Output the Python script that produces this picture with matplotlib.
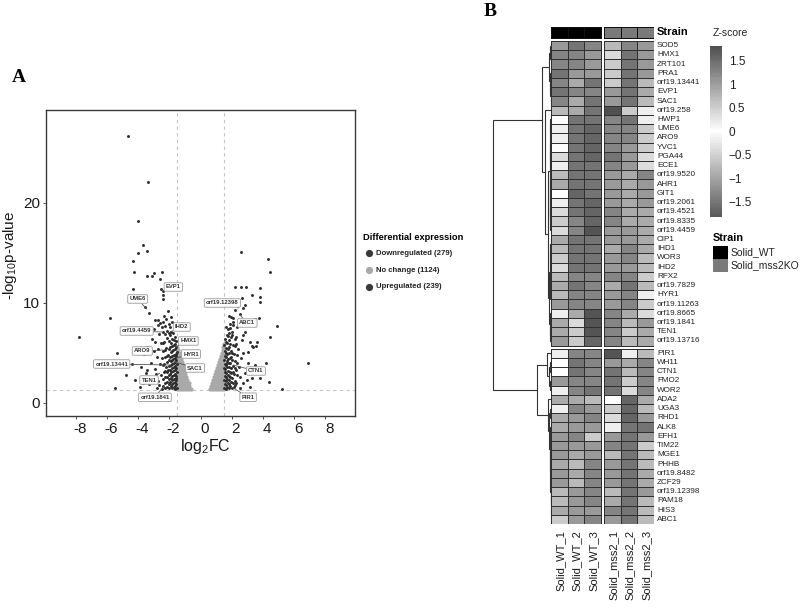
import numpy as np
import matplotlib
matplotlib.use('Agg')
import matplotlib.pyplot as plt
from matplotlib.colors import LinearSegmentedColormap, ListedColormap, Normalize
from matplotlib.lines import Line2D
from matplotlib.patches import Rectangle
import matplotlib.transforms as mtransforms
import matplotlib.colorbar as mcolorbar

plt.rcParams['font.family'] = ['Liberation Sans', 'DejaVu Sans']
plt.rcParams['mathtext.fontset'] = 'custom'
plt.rcParams['mathtext.rm'] = 'Liberation Sans'
plt.rcParams['mathtext.default'] = 'regular'

# ---------------- Panel A data (volcano) ----------------
down_fc = [-4.67,-3.35,-3.99,-3.67,-3.41,-3.99,-4.35,-4.28,-3.45,-3.13,-2.98,-2.47,-2.6,-4.35,-2.53,-2.42,-2.42,-2.40,-3.58,-3.3,-5.8,-7.77,-5.37,-4.8,-5.5,-4.95,
           -3.1,-3.4,-3.0,-3.6,-2.8,-3.2,-3.8,-2.9,-3.5,-3.1,-4.2,-2.7,-3.3,-3.9,-2.8,-4.4,-3.7,-3.0,-2.92,-2.7,-2.6,-2.49,-3.5,-2.75,-2.65,-2.55,-2.7,-2.6,-2.5,-2.65,-2.45,-2.85,-3.4,-2.9,
           -1.53,-1.57,-1.54,-1.58,-1.52,-1.56,-1.53,-1.59,-1.55,-1.52,-1.57,-1.54,
           -1.63,-1.61,-1.65,-1.6,-1.64,-1.62,-1.66,-1.61,-1.64,-1.6,-1.65,-1.62,-1.66,-1.63,
           -1.71,-1.74,-1.7,-1.73,-1.75,-1.7,-1.72,-1.76,-1.71,-1.74,-1.7,-1.73,-1.77,
           -1.81,-1.84,-1.8,-1.83,-1.86,-1.8,-1.82,-1.85,-1.81,-1.84,-1.8,-1.83,-1.86,-1.82,
           -1.91,-1.94,-1.9,-1.93,-1.96,-1.9,-1.92,-1.95,-1.91,-1.94,-1.9,-1.93,-1.96,-1.92,
           -2.02,-2.05,-2.0,-2.04,-2.07,-2.01,-2.03,-2.06,-2.02,-2.05,-2.01,-2.04,-2.07,
           -2.14,-2.17,-2.12,-2.16,-2.19,-2.13,-2.15,-2.18,-2.12,-2.16,-2.2,
           -2.27,-2.3,-2.25,-2.29,-2.32,-2.26,-2.28,-2.31,-2.25,-2.3,-2.33,
           -2.39,-2.42,-2.37,-2.41,-2.44,-2.38,-2.4,-2.43,-2.38]
down_p = [26.7,22.1,18.2,15.8,15.2,15.0,14.2,13.1,12.7,12.7,13.0,13.1,12.4,11.4,11.4,11.2,10.8,10.4,9.6,9.0,8.5,6.6,5.0,2.8,1.5,4.2,
          6.4,5.6,5.2,4.9,4.6,4.0,3.6,3.4,3.0,2.6,2.3,2.2,1.9,1.6,1.5,3.9,2.0,7.4,8.3,8.3,8.0,7.6,7.0,7.8,6.9,6.0,5.4,3.9,2.8,1.8,1.4,2.9,3.3,6.1,
          1.5,1.9,2.3,2.7,3.1,3.5,3.9,4.3,4.7,5.1,5.6,6.2,
          1.4,1.7,2.1,2.5,2.9,3.3,3.7,4.1,4.5,4.9,5.4,5.9,6.6,7.4,
          1.6,2.0,2.4,2.8,3.2,3.6,4.0,4.4,4.8,5.3,5.8,6.3,7.0,
          1.5,1.9,2.3,2.7,3.1,3.5,3.9,4.3,4.7,5.2,5.7,6.4,7.1,8.1,
          1.7,2.1,2.5,2.9,3.3,3.8,4.2,4.6,5.1,5.6,6.0,6.8,7.6,8.6,
          1.5,1.9,2.4,2.8,3.3,3.7,4.3,4.8,5.4,6.2,7.0,7.9,9.2,
          1.6,2.1,2.6,3.1,3.6,4.1,4.7,5.5,6.5,7.2,8.4,
          1.5,2.0,2.6,3.2,3.9,4.6,5.3,6.1,6.9,7.7,8.7,
          1.7,2.4,3.1,3.8,4.5,5.2,6.0,7.1,8.1]

up_fc = [2.6,4.31,4.45,2.21,2.58,2.9,3.81,3.3,3.81,3.81,2.66,2.85,2.74,1.81,1.95,2.1,3.77,4.92,4.45,3.32,3.56,6.87,5.2,4.18,4.39,3.54,
         2.1,1.99,2.85,2.3,2.64,3.17,3.39,3.06,2.75,3.06,3.49,2.85,2.53,3.28,3.81,2.75,2.21,2.45,2.6,2.4,2.95,3.2,2.55,2.35,2.5,2.2,2.7,3.6,3.0,3.5,
         1.53,1.56,1.52,1.57,1.54,1.51,1.56,1.53,1.58,1.54,1.52,1.56,
         1.62,1.65,1.61,1.64,1.66,1.6,1.63,1.67,1.62,1.65,1.61,1.64,1.68,1.62,
         1.72,1.75,1.71,1.74,1.77,1.7,1.73,1.76,1.72,1.74,1.71,1.75,1.78,
         1.82,1.85,1.81,1.84,1.87,1.8,1.83,1.86,1.82,1.85,1.81,1.84,1.87,
         1.92,1.95,1.9,1.94,1.97,1.91,1.93,1.96,1.92,1.95,1.9,
         2.04,2.07,2.02,2.06,2.09,2.03,2.05,2.08,2.04,2.06,
         2.17,2.2,2.15,2.19,2.22,2.16,2.18,2.21,
         2.29,2.32,2.27,2.31,2.34,2.28]
up_p = [15.1,14.4,13.1,11.6,11.6,11.6,11.5,10.8,10.6,10.1,10.5,9.8,9.5,8.7,8.6,8.5,8.5,7.7,6.6,5.7,5.7,4.0,1.4,4.0,2.1,3.4,
        8.1,7.1,7.1,6.6,6.3,6.1,5.6,5.1,5.0,4.0,3.8,3.0,2.6,2.5,2.5,2.0,1.8,3.6,4.5,5.4,2.3,1.6,1.5,7.6,8.9,9.3,6.8,6.1,8.3,8.4,
        1.5,1.9,2.3,2.7,3.1,3.5,3.9,4.3,4.7,5.2,5.8,6.4,
        1.4,1.8,2.2,2.6,3.0,3.4,3.8,4.2,4.6,5.0,5.5,6.1,6.8,7.6,
        1.6,2.0,2.4,2.8,3.2,3.6,4.0,4.4,4.9,5.4,6.0,6.7,7.4,
        1.5,1.9,2.3,2.7,3.1,3.6,4.0,4.5,5.0,5.6,6.3,7.0,7.9,
        1.7,2.1,2.6,3.0,3.5,4.0,4.6,5.2,5.9,6.6,7.5,
        1.5,2.0,2.5,3.1,3.7,4.3,5.0,5.8,6.8,7.8,
        1.6,2.2,2.9,3.5,4.2,4.9,5.7,6.4,
        2.0,2.8,3.3,4.0,4.8,5.9]

nc_fc = [-1.48,-1.36,-1.24,-1.12,-1.0,-0.88,-0.76,-0.64,
         -1.45,-1.33,-1.21,-1.09,-0.97,-0.85,-0.73,
         -1.48,-1.36,-1.24,-1.12,-1.0,-0.88,-0.76,
         -1.45,-1.33,-1.21,-1.09,-0.97,-0.85,
         -1.48,-1.36,-1.24,-1.12,-1.0,-0.9,
         -1.45,-1.33,-1.21,-1.09,-0.97,
         -1.48,-1.36,-1.24,-1.12,-1.0,
         -1.45,-1.33,-1.21,-1.09,
         -1.48,-1.36,-1.24,-1.12,
         -1.45,-1.33,-1.21,
         -1.48,-1.36,-1.25,
         -1.45,-1.33,
         -1.48,-1.37,
         -1.46,-1.49,
         0.64,0.76,0.88,1.0,1.12,1.24,1.36,1.48,
         0.7,0.82,0.94,1.06,1.18,1.3,1.42,
         0.76,0.88,1.0,1.12,1.24,1.36,1.48,
         0.82,0.94,1.06,1.18,1.3,1.42,
         0.88,1.0,1.12,1.24,1.36,1.48,
         0.94,1.06,1.18,1.3,1.42,
         1.0,1.12,1.24,1.36,1.48,
         1.06,1.18,1.3,1.42,
         1.12,1.24,1.36,1.48,
         1.18,1.3,1.42,
         1.24,1.36,1.48,
         1.3,1.42,
         1.36,1.48,
         1.42,1.47,1.49]
nc_p = [1.4,1.4,1.4,1.4,1.4,1.4,1.4,1.4,
        1.7,1.7,1.7,1.7,1.7,1.7,1.7,
        2.0,2.0,2.0,2.0,2.0,2.0,2.0,
        2.3,2.3,2.3,2.3,2.3,2.3,
        2.6,2.6,2.6,2.6,2.6,2.6,
        2.9,2.9,2.9,2.9,2.9,
        3.2,3.2,3.2,3.2,3.2,
        3.5,3.5,3.5,3.5,
        3.8,3.8,3.8,3.8,
        4.1,4.1,4.1,
        4.4,4.4,4.4,
        4.7,4.7,
        5.0,5.0,
        5.3,5.6,
        1.4,1.4,1.4,1.4,1.4,1.4,1.4,1.4,
        1.7,1.7,1.7,1.7,1.7,1.7,1.7,
        2.0,2.0,2.0,2.0,2.0,2.0,2.0,
        2.3,2.3,2.3,2.3,2.3,2.3,
        2.6,2.6,2.6,2.6,2.6,2.6,
        2.9,2.9,2.9,2.9,2.9,
        3.2,3.2,3.2,3.2,3.2,
        3.5,3.5,3.5,3.5,
        3.8,3.8,3.8,3.8,
        4.1,4.1,4.1,
        4.4,4.4,4.4,
        4.7,4.7,
        5.0,5.0,
        5.3,5.6,5.9]

lab_genes = ['EVP1','UME6','orf19.4459','IHD2','HMX1','HYR1','SAC1','ARO9','orf19.13441','TEN1','orf19.1841',
             'orf19.12398','ABC1','CTN1','PIR1']
lab_fc = [-2.42,-3.45,-2.49,-1.96,-1.63,-1.53,-1.64,-2.39,-1.96,-2.6,-2.38, 2.43,2.53,2.1,2.0]
lab_p = [11.2,9.4,7.1,7.1,5.6,4.5,4.1,5.3,3.8,3.0,1.63, 9.5,8.8,3.8,1.6]
lab_tx = [-1.74,-4.03,-4.09,-1.2,-0.78,-0.61,-0.35,-3.73,-5.69,-3.3,-2.92, 1.4,3.0,3.55,3.05]
lab_ty = [11.6,10.4,7.2,7.6,6.2,4.9,3.5,5.2,3.9,2.3,0.57, 10.0,8.0,3.2,0.58]

legend_labels = ['Downregulated (279)', 'No change (1124)', 'Upregulated (239)']

# ---------------- Panel B data (heatmap) ----------------
genes = ['SOD5','HMX1','ZRT101','PRA1','orf19.13441','EVP1','SAC1','orf19.258','HWP1','UME6','ARO9','YVC1',
         'PGA44','ECE1','orf19.9520','AHR1','GIT1','orf19.2061','orf19.4521','orf19.8335','orf19.4459','CIP1',
         'IHD1','WOR3','IHD2','RFX2','orf19.7829','HYR1','orf19.11263','orf19.8665','orf19.1841','TEN1','orf19.13716',
         'PIR1','WH11','CTN1','FMO2','WOR2','ADA2','UGA3','RHD1','ALK8','EFH1','TIM22','MGE1','PHHB','orf19.8482',
         'ZCF29','orf19.12398','PAM18','HIS3','ABC1']
samples = ['Solid_WT_1','Solid_WT_2','Solid_WT_3','Solid_mss2_1','Solid_mss2_2','Solid_mss2_3']
strain_names = ['Solid_WT', 'Solid_mss2KO']
zscore = [
 [-1.13,1.41,1.23,-0.75,1.23,-1.13],
 [1.23,1.23,-1.13,-0.38,1.41,-1.13],
 [1.23,1.23,-1.13,-0.57,1.41,-1.13],
 [1.41,-1.13,-1.13,-0.57,1.41,-1.13],
 [1.23,-0.94,1.41,-0.57,1.41,-0.75],
 [1.41,1.23,1.23,-1.13,1.41,-0.94],
 [1.23,-0.94,1.41,-1.13,1.41,-0.75],
 [-0.75,-0.94,1.41,1.81,-0.57,-0.19],
 [0.0,1.41,1.41,1.23,1.41,-0.19],
 [-0.19,1.41,1.58,1.23,1.23,-0.57],
 [-0.19,1.41,1.58,1.23,1.23,-0.57],
 [0.0,1.41,1.58,1.23,-1.13,-0.57],
 [-0.38,1.41,1.58,1.41,-1.13,-0.38],
 [-0.19,1.41,1.41,1.23,-1.13,-0.38],
 [-0.75,1.41,1.41,-1.13,-0.94,1.23],
 [-0.94,1.41,1.41,-1.13,-0.94,-1.13],
 [0.0,1.58,1.41,-1.13,-0.94,-1.13],
 [-0.19,1.41,1.58,-1.13,-0.94,-1.13],
 [-0.38,1.41,1.58,1.23,-0.94,-0.94],
 [-0.57,1.23,1.58,1.23,-0.94,-0.94],
 [-0.38,1.23,1.76,-1.13,-1.13,-0.94],
 [-0.94,1.41,1.41,-1.13,-1.13,-0.94],
 [-0.75,1.41,1.41,-0.94,1.23,-0.94],
 [-0.57,1.41,1.41,-1.13,1.23,-0.75],
 [-0.38,1.41,1.41,-1.13,-1.13,-0.75],
 [-0.75,1.23,1.23,1.23,1.23,-0.57],
 [-0.94,1.41,1.23,-0.94,1.41,-0.75],
 [-0.75,1.23,1.23,-1.13,1.23,-0.19],
 [-1.13,1.23,1.23,-1.13,1.23,-0.57],
 [-0.19,-0.94,1.76,1.23,-0.94,-0.38],
 [-0.94,-0.38,1.76,1.23,-0.75,-1.13],
 [-0.94,-0.57,1.76,1.23,-0.57,-0.94],
 [-1.13,-0.57,1.58,1.23,-0.75,-0.94],
 [-0.19,1.23,1.23,1.76,-0.19,-0.75],
 [0.0,1.41,1.23,-1.13,-0.94,1.23],
 [0.0,1.41,1.23,1.41,-0.75,1.23],
 [-1.13,1.23,1.23,1.41,-0.57,1.23],
 [-0.19,1.23,1.41,1.41,-0.38,1.23],
 [-0.94,-0.94,-0.75,0.0,1.58,-0.94],
 [-0.19,1.23,-1.13,-0.57,1.58,-0.75],
 [-0.94,-1.13,1.23,-0.38,1.58,-1.13],
 [-0.94,-1.13,-1.13,-0.19,1.41,1.41],
 [-1.13,1.23,-0.57,-1.13,1.41,-1.13],
 [-1.13,-1.13,-1.13,1.23,1.41,-0.57],
 [-1.13,-0.94,-1.13,-0.75,1.41,-0.75],
 [-0.94,-0.75,1.23,-1.13,1.41,-0.75],
 [-1.13,-0.94,1.23,-1.13,1.41,-0.94],
 [-1.13,-0.75,1.23,-1.13,1.41,-0.94],
 [-0.75,-1.13,1.23,-0.75,1.41,-1.13],
 [-0.75,-1.13,1.23,-0.94,1.41,-0.75],
 [-0.94,-1.13,-1.13,1.23,1.41,-0.75],
 [-0.57,-1.13,1.23,-1.13,1.41,-0.75],
]
n_upper = 33
# row dendrogram, scipy-like linkage: (child_a, child_b, height); ids >= 52 are earlier merges
links = [
 (1,2,0.08),(0,52,0.15),(5,6,0.08),(4,54,0.14),(3,55,0.2),(53,56,0.3),
 (9,10,0.05),(8,58,0.1),(11,12,0.07),(13,60,0.1),(59,61,0.15),(14,15,0.08),(16,17,0.06),(18,19,0.07),
 (64,65,0.1),(66,20,0.13),(63,67,0.17),(62,68,0.22),
 (21,22,0.06),(23,24,0.06),(70,71,0.1),(25,26,0.08),(27,28,0.08),(73,74,0.12),(72,75,0.18),
 (30,31,0.06),(77,32,0.1),(29,78,0.25),(76,79,0.4),(69,80,0.55),(7,81,0.95),(57,82,1.55),
 (34,35,0.1),(36,37,0.12),(84,85,0.3),(33,86,0.7),
 (39,40,0.15),(42,43,0.04),(44,45,0.04),(89,90,0.07),(46,47,0.03),(48,49,0.03),(50,51,0.04),
 (93,94,0.06),(92,95,0.08),(91,96,0.1),(41,97,0.25),(88,98,0.4),(38,99,0.5),(87,100,2.4),(83,101,10.0),
]

# ---------------- figure ----------------
W, H = 800, 611
fig = plt.figure(figsize=(W/100, H/100), dpi=100)

def box(l, t, r, b):
    return [l/W, 1 - b/H, (r - l)/W, (b - t)/H]

def fxy(x, y):
    return (x/W, 1 - y/H)

# Panel A
ax = fig.add_axes(box(46, 110, 355, 416))
ax.scatter(nc_fc, nc_p, s=9, c='#a9a9a9', linewidths=0, zorder=2)
ax.scatter(down_fc, down_p, s=4.5, c='#2d2d2d', linewidths=0, zorder=3)
ax.scatter(up_fc, up_p, s=4.5, c='#2d2d2d', linewidths=0, zorder=3)
for xv in (-1.5, 1.5):
    ax.axvline(xv, color='#c4c4c4', lw=0.8, ls=(0, (3, 3)), zorder=1)
ax.axhline(1.3, color='#c4c4c4', lw=0.8, ls=(0, (3, 3)), zorder=1)
for g, px, py, tx, ty in zip(lab_genes, lab_fc, lab_p, lab_tx, lab_ty):
    ax.annotate(g, xy=(px, py), xytext=(tx, ty), fontsize=4.2, fontweight='bold', color='#333333',
                ha='center', va='center', zorder=5,
                bbox=dict(boxstyle='round,pad=0.3,rounding_size=0.2', fc='white', ec='#9a9a9a', lw=0.6),
                arrowprops=dict(arrowstyle='-', color='#555555', lw=0.6, shrinkA=0, shrinkB=0))
ax.set_xlim(-9.9, 9.9)
ax.set_ylim(-1.3, 29.3)
ax.set_xticks([-8, -6, -4, -2, 0, 2, 4, 6, 8])
ax.set_xticklabels(['-8', '-6', '-4', '-2', '0', '2', '4', '6', '8'])
ax.set_yticks([0, 10, 20])
ax.tick_params(length=2.5, width=0.6, color='#333333', labelsize=11, pad=2, labelcolor='#1a1a1a')
off = mtransforms.ScaledTranslation(4/100, 0, fig.dpi_scale_trans)
for lbl in ax.get_xticklabels():
    lbl.set_transform(lbl.get_transform() + off)
for sp in ax.spines.values():
    sp.set_color('#3a3a3a')
    sp.set_linewidth(1.0)
ax.set_xlabel(r'log$_{\mathregular{2}}$FC', fontsize=11.5, color='#1a1a1a')
ax.set_ylabel(r'-log$_{\mathregular{10}}$p-value', fontsize=11, color='#1a1a1a')
ax.xaxis.set_label_coords((205 - 46)/309, (416 - 437)/306)
ax.yaxis.set_label_coords((19 - 46)/309, (416 - 255)/306)

# legend of panel A
fig.text(*fxy(363, 237), 'Differential expression', fontsize=6.7, fontweight='bold', va='center', ha='left')
leg_cols = ['#3a3a3a', '#a9a9a9', '#3a3a3a']
for i, (lab, col) in enumerate(zip(legend_labels, leg_cols)):
    yy = 253 + 17*i
    fig.add_artist(Line2D([369/W], [1 - yy/H], marker='o', markersize=4.2, color=col, lw=0,
                          transform=fig.transFigure))
    fig.text(*fxy(376, yy), lab, fontsize=5.6, fontweight='bold', va='center', ha='left', color='#222222')

# panel labels
fig.text(*fxy(19, 77), 'A', fontsize=14, fontweight='bold', family='Liberation Serif', ha='center', va='center')
fig.text(*fxy(490, 11), 'B', fontsize=14, fontweight='bold', family='Liberation Serif', ha='center', va='center')

# Panel B heatmap
Z = np.array(zscore)
vmin, vmax = -1.83, 1.81
cmap = LinearSegmentedColormap.from_list('zs', [(0.0, '#5a5a5a'), (-vmin/(vmax - vmin), '#ffffff'), (1.0, '#505050')], N=100)
norm = Normalize(vmin, vmax)
gap_c, gap_r = 0.18, 0.33
ann_top, ann_bot = -1.52, -0.33
n_rows = len(genes)
y_bottom = n_rows + gap_r

hx = fig.add_axes(box(551, 27, 654, 524))
hx.set_xlim(0, 6 + gap_c)
hx.set_ylim(y_bottom, ann_top)
hx.axis('off')
col_edges = [np.arange(0, 4), np.arange(0, 4) + 3 + gap_c]
row_edges = [np.arange(0, n_upper + 1), np.arange(n_upper, n_rows + 1) + gap_r]
row_slices = [slice(0, n_upper), slice(n_upper, n_rows)]
col_slices = [slice(0, 3), slice(3, 6)]
for re_, rs in zip(row_edges, row_slices):
    for ce, cs in zip(col_edges, col_slices):
        hx.pcolormesh(ce, re_, Z[rs, cs], cmap=cmap, norm=norm, edgecolors='#303030', linewidth=0.7)
# strain annotation
strain_code = np.array([[0, 0, 0, 1, 1, 1]])
ann_cmap = ListedColormap(['#000000', '#7a7a7a'])
for ce, cs in zip(col_edges, col_slices):
    hx.pcolormesh(ce, [ann_top, ann_bot], strain_code[:, cs], cmap=ann_cmap, vmin=0, vmax=1,
                  edgecolors='#111111', linewidth=0.7)
hx.text(6.36, (ann_top + ann_bot)/2, 'Strain', fontsize=8, fontweight='bold', va='center', ha='left')

def row_center(i):
    return i + 0.5 + (gap_r if i >= n_upper else 0)

for i, g in enumerate(genes):
    hx.text(6.36, row_center(i), g, fontsize=5.9, va='center', ha='left', color='#222222')
col_centers = [0.5, 1.5, 2.5, 3.5 + gap_c, 4.5 + gap_c, 5.5 + gap_c]
for cx, s in zip(col_centers, samples):
    hx.text(cx + 0.05, y_bottom + 0.65, s, rotation=90, fontsize=8, va='top', ha='center', color='#1a1a1a')

# dendrogram
dx = fig.add_axes(box(490, 27, 551, 524))
dx.set_ylim(y_bottom, ann_top)
dx.set_xlim(10.5, 0)
dx.axis('off')
pos = {}
for i in range(n_rows):
    pos[i] = (0.0, row_center(i))
for k, (a, b, h) in enumerate(links):
    ha_, ya = pos[a]
    hb, yb = pos[b]
    dx.plot([ha_, h, h, hb], [ya, ya, yb, yb], color='#333333', lw=0.8, solid_joinstyle='miter')
    pos[n_rows + k] = (h, (ya + yb)/2)

# colorbar
cax = fig.add_axes(box(710, 46, 722, 217))
cb = mcolorbar.ColorbarBase(cax, cmap=cmap, norm=norm, orientation='vertical')
cb.outline.set_visible(False)
cb.set_ticks([-1.5, -1, -0.5, 0, 0.5, 1, 1.5])
cb.set_ticklabels(['\u22121.5', '\u22121', '\u22120.5', '0', '0.5', '1', '1.5'])
cax.tick_params(length=0, pad=5, labelsize=8.5, labelcolor='#222222')
fig.text(*fxy(713, 33), 'Z-score', fontsize=7.5, va='center', ha='left', color='#222222')

# strain legend
fig.text(*fxy(713, 238), 'Strain', fontsize=7.8, fontweight='bold', va='center', ha='left')
for i, (nm, col) in enumerate(zip(strain_names, ['#000000', '#7a7a7a'])):
    top = 246 + 13*i
    fig.add_artist(Rectangle(fxy(713, top + 13), 15/W, 13/H, transform=fig.transFigure,
                             facecolor=col, edgecolor='none'))
    fig.text(*fxy(731, top + 6.5), nm, fontsize=7.5, va='center', ha='left', color='#222222')

fig.savefig('out.png', dpi=100)
